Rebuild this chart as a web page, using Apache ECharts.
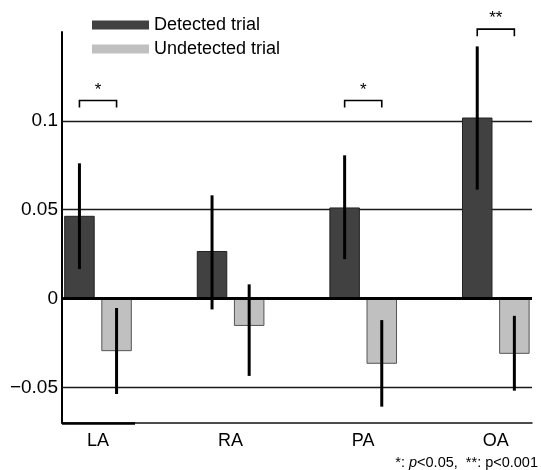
<!DOCTYPE html>
<html>
<head>
<meta charset="utf-8">
<script src="https://cdn.jsdelivr.net/npm/echarts@6/dist/echarts.min.js"></script>
<style>
  html, body { margin: 0; padding: 0; background: #fff; }
  #chart { width: 541px; height: 470px; }
</style>
</head>
<body>
<div id="chart"></div>
<script>
// 数据
const categories = ['LA', 'RA', 'PA', 'OA']
const detected = [0.0463, 0.0265, 0.051, 0.1016]
const detectedLow = [0.0166, -0.0061, 0.0222, 0.0613]
const detectedHigh = [0.0761, 0.0581, 0.0806, 0.1419]
const undetected = [-0.0293, -0.0151, -0.0364, -0.0308]
const undetectedLow = [-0.0537, -0.0435, -0.0608, -0.0518]
const undetectedHigh = [-0.0053, 0.008, -0.0121, -0.0097]
const yTicks = [-0.05, 0, 0.05, 0.1]
const gridValues = [-0.05, 0.05, 0.1]
// 显著性标记
const sigIndex = [0, 2, 3]
const sigLevel = [0.1115, 0.1115, 0.1516]
const sigText = ['*', '*', '**']

const FONT = 'Liberation Sans, Arial, sans-serif'
const OFFSET = 0.14
const BAR_W = 0.2225

const chart = echarts.init(document.getElementById('chart'))

function barItem(offset, fill, border) {
  return function (params, api) {
    const xc = api.value(0) + offset
    const p0 = api.coord([xc, 0])
    const p1 = api.coord([xc, api.value(1)])
    const lo = api.coord([xc, api.value(2)])
    const hi = api.coord([xc, api.value(3)])
    const w = api.size([BAR_W, 0])[0]
    return {
      type: 'group',
      children: [
        {
          type: 'rect',
          shape: { x: p0[0] - w / 2, y: Math.min(p0[1], p1[1]), width: w, height: Math.abs(p1[1] - p0[1]) },
          style: { fill: fill, stroke: border, lineWidth: 1 }
        },
        {
          type: 'line',
          z2: 10,
          shape: { x1: lo[0], y1: lo[1], x2: hi[0], y2: hi[1] },
          style: { stroke: '#000', lineWidth: 3 }
        }
      ]
    }
  }
}

const detData = categories.map((c, i) => [i, detected[i], detectedLow[i], detectedHigh[i]])
const undData = categories.map((c, i) => [i, undetected[i], undetectedLow[i], undetectedHigh[i]])
const sigData = sigIndex.map((idx, k) => [idx, sigLevel[k], k])

const option = {
  animation: false,
  backgroundColor: '#fff',
  textStyle: { fontFamily: FONT },
  grid: { left: 62, right: 9, top: 32, bottom: 47 },
  legend: {
    orient: 'vertical',
    left: 87,
    top: 11,
    itemWidth: 57,
    itemHeight: 9,
    itemGap: 6,
    icon: 'rect',
    data: ['Detected trial', 'Undetected trial'],
    itemStyle: { borderWidth: 0 },
    textStyle: { fontSize: 18, color: '#000', fontFamily: FONT }
  },
  xAxis: {
    type: 'value',
    min: -0.2715,
    max: 3.273,
    splitLine: { show: false },
    axisTick: { show: false },
    axisLine: { onZero: false, lineStyle: { color: '#111', width: 1.5 } },
    axisLabel: {
      customValues: [0, 1, 2, 3],
      formatter: (v) => categories[Math.round(v)],
      fontSize: 18,
      color: '#000',
      margin: 9,
      fontFamily: FONT
    }
  },
  yAxis: {
    type: 'value',
    min: -0.07,
    max: 0.15,
    splitLine: { show: false },
    axisTick: { show: false },
    axisLine: { show: true, onZero: false, lineStyle: { color: '#000', width: 2 } },
    axisLabel: {
      customValues: yTicks,
      formatter: (v) => (v === 0 ? '0' : String(v).replace('-', '\u2212')),
      fontSize: 19,
      color: '#000',
      margin: 4,
      fontFamily: FONT
    }
  },
  series: [
    {
      // 网格线
      type: 'line',
      data: [],
      silent: true,
      markLine: {
        z: 1,
        silent: true,
        symbol: 'none',
        label: { show: false },
        lineStyle: { color: '#1a1a1a', width: 1.4, type: 'solid' },
        data: gridValues.map((v) => ({ yAxis: v })).concat([
          [
            { coord: [-0.2715, -0.07], lineStyle: { width: 2.5, color: '#000' } },
            { coord: [0.279, -0.07] }
          ]
        ])
      }
    },
    {
      name: 'Detected trial',
      type: 'custom',
      z: 2,
      itemStyle: { color: '#414141' },
      renderItem: barItem(-OFFSET, '#414141', '#222'),
      data: detData
    },
    {
      name: 'Undetected trial',
      type: 'custom',
      z: 2,
      itemStyle: { color: '#c0c0c0' },
      renderItem: barItem(OFFSET, '#c0c0c0', '#555'),
      data: undData
    },
    {
      // 零线
      type: 'line',
      data: [],
      silent: true,
      markLine: {
        z: 4,
        silent: true,
        symbol: 'none',
        label: { show: false },
        lineStyle: { color: '#000', width: 3, type: 'solid' },
        data: [{ yAxis: 0 }]
      }
    },
    {
      // 显著性括号
      type: 'custom',
      z: 5,
      clip: false,
      silent: true,
      renderItem: function (params, api) {
        const i = api.value(0)
        const y = api.value(1)
        const k = api.value(2)
        const l = api.coord([i - OFFSET, y])
        const r = api.coord([i + OFFSET, y])
        return {
          type: 'group',
          children: [
            {
              type: 'polyline',
              shape: { points: [[l[0], l[1] + 7], [l[0], l[1]], [r[0], r[1]], [r[0], r[1] + 7]] },
              style: { stroke: '#000', lineWidth: 1.6, fill: null }
            },
            {
              type: 'text',
              x: (l[0] + r[0]) / 2,
              y: l[1] - 2,
              style: {
                text: sigText[k],
                fontSize: 17,
                fontFamily: FONT,
                fill: '#000',
                align: 'center',
                verticalAlign: 'bottom'
              }
            }
          ]
        }
      },
      data: sigData
    }
  ],
  graphic: [
    {
      type: 'text',
      right: 3,
      top: 455,
      style: {
        text: '{a|*: }{i|p}{a|<0.05,  **: p<0.001}',
        rich: {
          a: { fontSize: 14.5, fontFamily: FONT, fill: '#000' },
          i: { fontSize: 14.5, fontFamily: FONT, fontStyle: 'italic', fill: '#000' }
        }
      }
    }
  ]
}

chart.setOption(option)
</script>
</body>
</html>
